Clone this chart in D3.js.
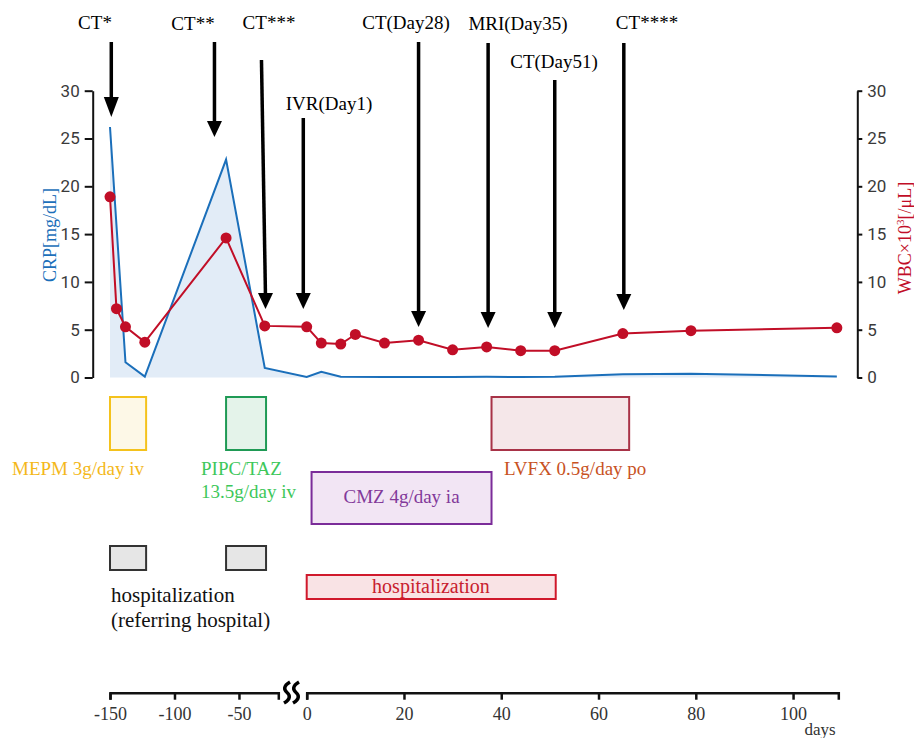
<!DOCTYPE html>
<html>
<head>
<meta charset="utf-8">
<script src="https://cdn.jsdelivr.net/npm/d3@7"></script>
<style>
    body { margin: 0; background: #fff; }
    text { font-family: "Liberation Serif", "Times New Roman", serif; }
</style>
</head>
<body>
<svg id="chart" width="914" height="738"></svg>
<script>
/**
 * CRP / WBC course chart with treatment bars
 */
(function () {

    // ---- data ----
    var crpDays = [-150, -138, -123, -60, -30, 0, 3, 7, 16, 23, 30, 37, 44, 51, 65, 79, 109];
    var crpValues = [26.2, 1.6, 0.1, 22.8, 1.0, 0.05, 0.6, 0.08, 0.05, 0.05, 0.05, 0.08, 0.05, 0.08, 0.35, 0.4, 0.1];

    var wbcDays = [-150, -145, -138, -123, -60, -30, 0, 3, 7, 10, 16, 23, 30, 37, 44, 51, 65, 79, 109];
    var wbcValues = [18.9, 7.2, 5.3, 3.7, 14.6, 5.4, 5.3, 3.6, 3.5, 4.5, 3.6, 3.9, 2.9, 3.2, 2.8, 2.8, 4.6, 4.9, 5.2];

    var eventLabels = ["CT*", "CT**", "CT***", "IVR(Day1)", "CT(Day28)", "MRI(Day35)", "CT(Day51)", "CT****"];
    var eventDays = [-149, -69, -31, -0.7, 23, 37.3, 51, 65.2];

    var treatLabels = [["MEPM 3g/day iv"], ["PIPC/TAZ", "13.5g/day iv"], ["CMZ 4g/day ia"], ["LVFX 0.5g/day po"],
        [], [], ["hospitalization"]];
    var treatStart = [-150, -60, 1, 38, -150, -60, 0];
    var treatEnd = [-122, -29, 38, 66.3, -122, -29, 51.2];

    var leftDayTicks = [-150, -100, -50];
    var rightDayTicks = [0, 20, 40, 60, 80, 100];
    var valueTicks = [0, 5, 10, 15, 20, 25, 30];

    // ---- layout / styles ----
    var blue = "#1b6fba", red = "#c10e27";

    // label centre, label baseline, arrow top, arrow tip, tilt
    var eventLayout = [
        { lx: 95, ly: 29, top: 42, tip: 117, tilt: 0 },
        { lx: 193, ly: 30, top: 42, tip: 137, tilt: 0 },
        { lx: 269, ly: 29, top: 60, tip: 309, tilt: 4 },
        { lx: 329, ly: 110, top: 118, tip: 309, tilt: 0 },
        { lx: 406, ly: 29, top: 42, tip: 327, tilt: 0 },
        { lx: 518, ly: 30, top: 43, tip: 328, tilt: 0 },
        { lx: 554, ly: 68, top: 80, tip: 328, tilt: 0 },
        { lx: 647, ly: 29, top: 43, tip: 310, tilt: 0 }
    ];

    var treatLayout = [
        { y: 397, h: 53, stroke: "#f4c21c", fill: "#fdf8e7", color: "#f4b81a", tx: 12, ty: 475, anchor: "start", size: 19 },
        { y: 397, h: 53, stroke: "#1f9a55", fill: "#e4f3ea", color: "#3dc75a", tx: 201, ty: 475, anchor: "start", size: 19 },
        { y: 472, h: 52, stroke: "#7b2c99", fill: "#f2e5f4", color: "#82399a", tx: null, ty: 503, anchor: "middle", size: 19 },
        { y: 397, h: 53, stroke: "#a83347", fill: "#f5e7e9", color: "#c8521f", tx: 504, ty: 475, anchor: "start", size: 19 },
        { y: 546, h: 24, stroke: "#333", fill: "#e6e6e6" },
        { y: 546, h: 24, stroke: "#333", fill: "#e6e6e6" },
        { y: 575, h: 24, stroke: "#d0192c", fill: "#f9e3e5", color: "#c8202e", tx: 431, ty: 593, anchor: "middle", size: 20 }
    ];

    var svg = d3.select("#chart");

    // ---- scales ----
    var xLeft = d3.scaleLinear().domain([-150, -19.5]).range([110, 278.3]);
    var xRight = d3.scaleLinear().domain([0, 109.3]).range([306.7, 838.3]);
    var x = function (d) { return d < -10 ? xLeft(d) : xRight(d); };
    var y = d3.scaleLinear().domain([0, 30]).range([377.5, 90.7]);

    // ---- CRP area + line ----
    var crp = crpDays.map(function (d, i) { return { day: d, v: crpValues[i] }; });
    var wbc = wbcDays.map(function (d, i) { return { day: d, v: wbcValues[i] }; });

    svg.append("path")
        .datum(crp)
        .attr("fill", "#e2ecf7")
        .attr("d", d3.area().x(function (d) { return x(d.day); }).y0(y(0)).y1(function (d) { return y(d.v); }));

    svg.append("path")
        .datum(crp)
        .attr("fill", "none")
        .attr("stroke", blue)
        .attr("stroke-width", 2)
        .attr("d", d3.line().x(function (d) { return x(d.day); }).y(function (d) { return y(d.v); }));

    // ---- WBC line + dots ----
    svg.append("path")
        .datum(wbc)
        .attr("fill", "none")
        .attr("stroke", red)
        .attr("stroke-width", 2)
        .attr("d", d3.line().x(function (d) { return x(d.day); }).y(function (d) { return y(d.v); }));

    svg.selectAll("circle.wbc")
        .data(wbc)
        .enter().append("circle")
        .attr("class", "wbc")
        .attr("cx", function (d) { return x(d.day); })
        .attr("cy", function (d) { return y(d.v); })
        .attr("r", 5.5)
        .attr("fill", red);

    // ---- y axes ----
    var yAxisL = svg.append("g")
        .attr("transform", "translate(92.7,0)")
        .call(d3.axisLeft(y).tickValues(valueTicks).tickSize(8).tickSizeOuter(0).tickPadding(5));
    var yAxisR = svg.append("g")
        .attr("transform", "translate(857.3,0)")
        .call(d3.axisRight(y).tickValues(valueTicks).tickSize(5).tickSizeOuter(0).tickPadding(5));

    [yAxisL, yAxisR].forEach(function (g) {
        g.selectAll("path, line").attr("stroke", "#111").attr("stroke-width", 2);
        g.selectAll("text")
            .style("font-family", "Roboto, 'Noto Sans', sans-serif")
            .style("font-size", "17px")
            .attr("fill", "#3a3a3a");
    });

    svg.append("text")
        .attr("transform", "translate(56,235) rotate(-90)")
        .attr("text-anchor", "middle")
        .attr("fill", blue)
        .style("font-size", "18px")
        .text("CRP[mg/dL]");

    var wbcLabel = svg.append("text")
        .attr("transform", "translate(911,238) rotate(-90)")
        .attr("text-anchor", "middle")
        .attr("fill", red)
        .style("font-size", "18px");
    wbcLabel.append("tspan").text("WBC\u00d710");
    wbcLabel.append("tspan").attr("dy", -7).style("font-size", "11px").text("3");
    wbcLabel.append("tspan").attr("dy", 7).text("[/\u03bcL]");

    // ---- event arrows ----
    eventLabels.forEach(function (label, i) {
        var lay = eventLayout[i];
        var ex = x(eventDays[i]);
        var x0 = ex - lay.tilt / 2, x1 = ex + lay.tilt / 2;
        var hh = i === 0 ? 20 : 16, hw = 7.5;

        svg.append("line")
            .attr("x1", x0).attr("y1", lay.top)
            .attr("x2", x1).attr("y2", lay.tip - hh + 2)
            .attr("stroke", "#000")
            .attr("stroke-width", 3.5);
        svg.append("path")
            .attr("d", "M" + (x1 - hw) + "," + (lay.tip - hh) + "L" + (x1 + hw) + "," + (lay.tip - hh) +
                "L" + x1 + "," + lay.tip + "Z")
            .attr("fill", "#000");
        svg.append("text")
            .attr("x", lay.lx)
            .attr("y", lay.ly)
            .attr("text-anchor", "middle")
            .attr("fill", "#000")
            .style("font-size", "19px")
            .text(label);
    });

    // ---- treatment bars ----
    treatStart.forEach(function (s, i) {
        var lay = treatLayout[i];
        var x0 = x(s), x1 = x(treatEnd[i]);
        svg.append("rect")
            .attr("x", x0).attr("y", lay.y)
            .attr("width", x1 - x0).attr("height", lay.h)
            .attr("fill", lay.fill)
            .attr("stroke", lay.stroke)
            .attr("stroke-width", 2);
        if (treatLabels[i].length) {
            var t = svg.append("text")
                .attr("text-anchor", lay.anchor)
                .attr("fill", lay.color)
                .style("font-size", lay.size + "px");
            var tx = lay.tx === null ? (x0 + x1) / 2 : lay.tx;
            treatLabels[i].forEach(function (line, j) {
                t.append("tspan").attr("x", tx).attr("y", lay.ty + j * 23).text(line);
            });
        }
    });

    var hosp = svg.append("text")
        .attr("fill", "#111")
        .style("font-size", "21px");
    hosp.append("tspan").attr("x", 111).attr("y", 602).text("hospitalization");
    hosp.append("tspan").attr("x", 111).attr("y", 627).text("(referring hospital)");

    // ---- bottom (broken) day axis ----
    var axisY = 692.7;
    var dayFmt = function (d) { return String(d); };
    var gL = svg.append("g")
        .attr("transform", "translate(0," + axisY + ")")
        .call(d3.axisBottom(xLeft).tickValues(leftDayTicks).tickFormat(dayFmt)
            .tickSize(7).tickSizeOuter(7).tickPadding(8));
    var gR = svg.append("g")
        .attr("transform", "translate(0," + axisY + ")")
        .call(d3.axisBottom(xRight).tickValues(rightDayTicks).tickFormat(dayFmt)
            .tickSize(7).tickSizeOuter(7).tickPadding(8));

    [gL, gR].forEach(function (g) {
        g.selectAll("path, line").attr("stroke", "#111").attr("stroke-width", 2.5);
        g.selectAll("text")
            .style("font-family", "'Liberation Serif', serif")
            .style("font-size", "18px")
            .attr("fill", "#333");
    });

    // break mark
    [287, 296].forEach(function (bx) {
        svg.append("path")
            .attr("d", "M" + (bx + 3) + ",682 C" + (bx - 4) + ",686 " + (bx - 3) + ",690 " + bx + ",692.5 C" +
                (bx + 3) + ",695 " + (bx + 4) + ",699 " + (bx - 3) + ",703")
            .attr("fill", "none")
            .attr("stroke", "#000")
            .attr("stroke-width", 3.5);
    });

    svg.append("text")
        .attr("x", 820)
        .attr("y", 735)
        .attr("text-anchor", "middle")
        .attr("fill", "#333")
        .style("font-size", "17px")
        .text("days");

})();
</script>
</body>
</html>
